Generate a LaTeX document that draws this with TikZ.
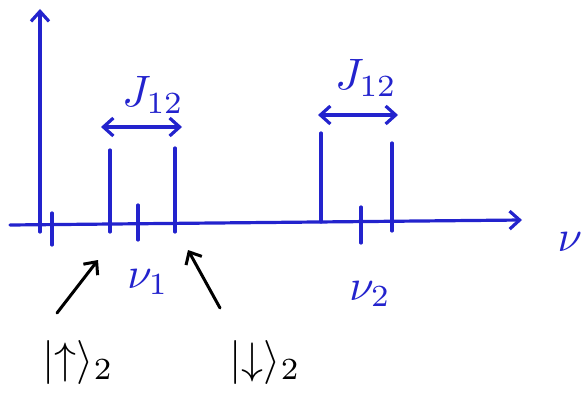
\documentclass[tikz,border=0pt]{standalone}
\usepackage{amsmath}
\usepackage{amssymb}
\usetikzlibrary{arrows.meta}

\definecolor{penblue}{RGB}{35,35,205}

\begin{document}
\begin{tikzpicture}[x=1pt, y=-1pt, >={Straight Barb[length=10pt,width=18pt]},
  line cap=round, line join=round,
  pen/.style={penblue, line width=3.2pt},
  lbl/.style={scale=4.4, inner sep=0pt},
  ptr/.style={black, line width=3pt, ->}]
  \useasboundingbox (0,0) rectangle (588,403);

  % Axes
  \coordinate (Y0) at (40,232);
  \coordinate (Y1) at (40,9);
  \coordinate (X0) at (10,225);
  \coordinate (X1) at (522,220);
  \draw[pen,->] (Y0) -- (Y1);
  \draw[pen,->] (X0) -- (X1);
  \node[lbl, penblue] (nu) at (570,242) {$\nu$};

  % First doublet
  \coordinate (A1) at (110,150);
  \coordinate (A1b) at (110,232);
  \coordinate (A2) at (175,148);
  \coordinate (A2b) at (175,232);
  \draw[pen] (A1) -- (A1b);
  \draw[pen] (A2) -- (A2b);
  \draw[pen] (52,213) -- (52,245);
  \draw[pen] (138,205) -- (138,240);
  \node[lbl, penblue] (nu1) at (148,282) {$\nu_1$};

  % Second doublet
  \coordinate (B1) at (321,133);
  \coordinate (B1b) at (321,222);
  \coordinate (B2) at (392,143);
  \coordinate (B2b) at (392,231);
  \draw[pen] (B1) -- (B1b);
  \draw[pen] (B2) -- (B2b);
  \draw[pen] (361,207) -- (361,243);
  \node[lbl, penblue] (nu2) at (370,294) {$\nu_2$};

  % Splittings
  \coordinate (JaL) at (101,127);
  \coordinate (JaR) at (182,127);
  \coordinate (JbL) at (318,115);
  \coordinate (JbR) at (398,115);
  \draw[pen,<->] (JaL) -- (JaR);
  \draw[pen,<->] (JbL) -- (JbR);
  \node[lbl, penblue] (Ja) at (153,95) {$J_{12}$};
  \node[lbl, penblue] (Jb) at (366,78) {$J_{12}$};

  % Spin states
  \node[lbl] (up) at (78,362) {$|{\uparrow}\rangle_2$};
  \node[lbl] (dn) at (265,362) {$|{\downarrow}\rangle_2$};
  \coordinate (upS) at (57,313);
  \coordinate (upT) at (98,260);
  \coordinate (dnS) at (220,308);
  \coordinate (dnT) at (188,250);
  \draw[ptr] (upS) -- (upT);
  \draw[ptr] (dnS) -- (dnT);
\end{tikzpicture}
\end{document}
